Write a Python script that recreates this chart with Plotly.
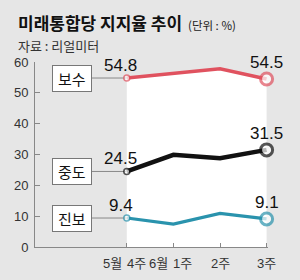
import plotly.graph_objects as go

categories = ["5월 4주", "6월 1주", "2주", "3주"]
conservative = [54.8, 56.3, 57.8, 54.5]
moderate = [24.5, 29.9, 28.8, 31.5]
progressive = [9.4, 7.4, 10.9, 9.1]
group_names = ["보수", "중도", "진보"]
y_ticks = [0, 10, 20, 30, 40, 50, 60]

colors = ["#e0525f", "#111111", "#2a93ad"]
widths = [3.5, 4.5, 3.2]
series = [conservative, moderate, progressive]
xs = list(range(len(categories)))

NUM_FONT = "Liberation Sans Narrow, Liberation Sans, Noto Sans CJK KR"
KR_FONT = "Noto Sans CJK KR, Liberation Sans"

fig = go.Figure()

for i, (vals, col, w) in enumerate(zip(series, colors, widths)):
    fig.add_trace(go.Scatter(
        x=xs, y=vals, mode="lines+markers",
        fill="tozeroy" if i == 0 else None,
        fillcolor="white",
        line=dict(color=col, width=w),
        marker=dict(size=[6, 0, 0, 12], color="white",
                    line=dict(color=col, width=[1.5, 0, 0, 3])),
        cliponaxis=False, showlegend=False, hoverinfo="skip",
    ))

annotations = []
shapes = []
for name, vals in zip(group_names, series):
    shapes.append(dict(type="line", xref="x", yref="y", x0=-1.2, x1=0,
                       y0=vals[0], y1=vals[0], line=dict(color="#888", width=1),
                       layer="below"))
    annotations.append(dict(
        x=-1.18, y=vals[0], xref="x", yref="y", text="\u2009" + name + "\u2009",
        showarrow=False,
        font=dict(family=KR_FONT, size=15, color="#111"),
        bgcolor="white", bordercolor="#777", borderwidth=1, borderpad=2,
    ))
    annotations.append(dict(
        x=0, y=vals[0], xref="x", yref="y", text=f"{vals[0]}", showarrow=False,
        font=dict(family=NUM_FONT, size=17, color="#111"),
        xshift=-6, yshift=13,
    ))
    annotations.append(dict(
        x=3, y=vals[-1], xref="x", yref="y", text=f"{vals[-1]}", showarrow=False,
        font=dict(family=NUM_FONT, size=17, color="#111"),
        yshift=16,
    ))

# x-axis category labels: week part starts at the tick, month part before it
for i, lab in enumerate(categories):
    lf = dict(family=NUM_FONT, size=13, color="#333")
    if " " in lab:
        month, week = lab.split(" ")
        annotations.append(dict(x=i, y=0, xref="x", yref="y", text=month,
                                showarrow=False, xanchor="right", yanchor="middle",
                                xshift=-3, yshift=-16, font=lf))
        annotations.append(dict(x=i, y=0, xref="x", yref="y", text=week,
                                showarrow=False, xanchor="left", yanchor="middle",
                                xshift=-2, yshift=-16, font=lf))
    else:
        annotations.append(dict(x=i, y=0, xref="x", yref="y", text=lab,
                                showarrow=False, xanchor="center", yanchor="middle",
                                yshift=-16, font=lf))

def px(xp):
    return (xp - 35) / 233.0

def py(yp):
    return (247 - yp) / 185.0

annotations.append(dict(x=px(16), y=py(22), xref="paper", yref="paper",
                        xanchor="left", yanchor="middle", showarrow=False,
                        text="<b>미래통합당 지지율 추이</b>",
                        font=dict(family=KR_FONT, size=17, color="#111")))
annotations.append(dict(x=px(186), y=py(25), xref="paper", yref="paper",
                        xanchor="left", yanchor="middle", showarrow=False,
                        text="(단위 : %)",
                        font=dict(family=KR_FONT, size=11.5, color="#222")))
annotations.append(dict(x=px(16), y=py(45), xref="paper", yref="paper",
                        xanchor="left", yanchor="middle", showarrow=False,
                        text="자료 : 리얼미터",
                        font=dict(family=KR_FONT, size=13, color="#333")))

fig.update_layout(
    width=300, height=280,
    margin=dict(l=35, r=32, t=62, b=33),
    paper_bgcolor="#e6e6e6", plot_bgcolor="#e6e6e6",
    annotations=annotations, shapes=shapes,
    xaxis=dict(range=[-1.97, 3.03], tickvals=xs, showticklabels=False,
               showline=True, linecolor="#888", linewidth=1,
               ticks="inside", ticklen=4, tickcolor="#888",
               showgrid=False, zeroline=False),
    yaxis=dict(range=[0, 60], tickvals=y_ticks,
               showline=True, linecolor="#888", linewidth=1,
               ticks="inside", ticklen=5, tickcolor="#888",
               showgrid=False, zeroline=False, ticklabelstandoff=3,
               tickfont=dict(family=NUM_FONT, size=13, color="#333")),
)

fig.write_html("out.html")
